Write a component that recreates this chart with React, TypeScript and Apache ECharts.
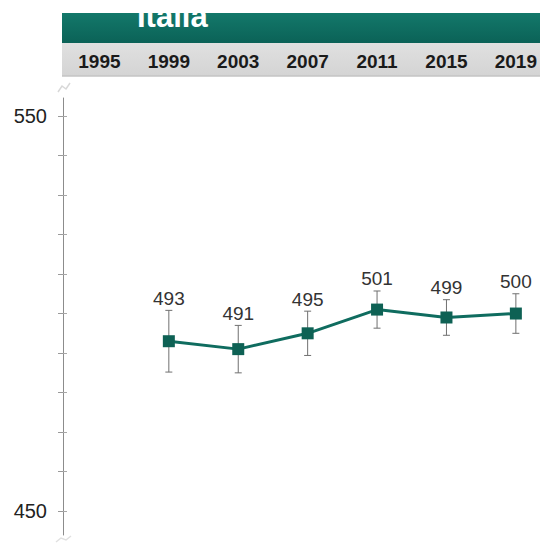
import React, { useEffect, useRef } from "react";
import * as echarts from "echarts";

const headerYears = [1995, 1999, 2003, 2007, 2011, 2015, 2019];
const dataYears = [1999, 2003, 2007, 2011, 2015, 2019];
const scores = [493, 491, 495, 501, 499, 500];
const ciHalf = [7.8, 6.0, 5.6, 4.7, 4.5, 5.0];
const yTickValues = [450, 460, 470, 480, 490, 500, 510, 520, 530, 540, 550];
const yLabelValues = [450, 550];
const countryName = "Italia";

const FONT = '"Liberation Sans", Arial, sans-serif';
const GREEN = "#0f6c5f";

export default function App() {
  const ref = useRef<HTMLDivElement>(null);
  useEffect(() => {
    if (!ref.current) return;
    const chart = echarts.init(ref.current, null, { renderer: "svg" });
    const lineData = dataYears.map((y, i) => [y, scores[i]]);
    const errData = dataYears.map((y, i) => [y, scores[i] - ciHalf[i], scores[i] + ciHalf[i], scores[i]]);
    chart.setOption({
      animation: false,
      backgroundColor: "#ffffff",
      textStyle: { fontFamily: FONT },
      grid: { left: 63, right: 0, top: 98, bottom: 10 },
      xAxis: [
        {
          type: "value",
          position: "top",
          min: 1992.9,
          max: 2020.08,
          offset: 36.5,
          axisLine: { show: false },
          axisTick: { show: false },
          splitLine: { show: false },
          axisLabel: {
            customValues: headerYears,
            margin: 0,
            verticalAlign: "middle",
            fontSize: 19,
            fontWeight: "bold",
            color: "#1a1a1a",
            fontFamily: FONT,
            formatter: (v: number) => String(Math.round(v)),
          },
        },
      ],
      yAxis: [
        {
          type: "value",
          min: 444,
          max: 554.5,
          axisLine: { show: true, lineStyle: { color: "#8c8c8c", width: 1 } },
          axisTick: {
            show: true,
            customValues: yTickValues,
            length: 5,
            lineStyle: { color: "#9a9a9a" },
          },
          splitLine: { show: false },
          axisLabel: {
            customValues: yLabelValues,
            margin: 16,
            fontSize: 20,
            color: "#222",
            fontFamily: FONT,
          },
        },
        {
          type: "value",
          position: "left",
          min: 444,
          max: 554.5,
          axisLine: { show: false },
          axisTick: {
            show: true,
            inside: true,
            customValues: yTickValues,
            length: 4,
            lineStyle: { color: "#a8a8a8" },
          },
          splitLine: { show: false },
          axisLabel: { show: false },
        },
      ],
      graphic: [
        {
          type: "rect",
          z: -10,
          shape: { x: 62, y: 13, width: 478, height: 30 },
          style: {
            fill: new echarts.graphic.LinearGradient(0, 0, 0, 1, [
              { offset: 0, color: "#13786a" },
              { offset: 1, color: "#0b6257" },
            ]),
          },
        },
        {
          type: "rect",
          z: -10,
          shape: { x: 62, y: 43, width: 478, height: 33 },
          style: {
            fill: new echarts.graphic.LinearGradient(0, 0, 0, 1, [
              { offset: 0, color: "#e0e0e0" },
              { offset: 1, color: "#d4d4d4" },
            ]),
          },
        },
        {
          type: "line",
          z: -9,
          shape: { x1: 62, y1: 76, x2: 540, y2: 76 },
          style: { stroke: "#c4c4c4", lineWidth: 1.5 },
        },
        {
          type: "text",
          z: 5,
          x: 137,
          y: 1,
          style: {
            text: countryName,
            fill: "#ffffff",
            font: `bold 31px ${FONT}`,
            verticalAlign: "top",
            align: "left",
          },
        },
        {
          type: "rect",
          z: 10,
          shape: { x: 0, y: 0, width: 540, height: 13 },
          style: { fill: "#ffffff" },
        },
        {
          type: "polyline",
          z: 1,
          shape: { points: [[58, 92], [62, 86], [66, 89], [70, 83]] },
          style: { stroke: "#d8d8d8", lineWidth: 1.5, fill: null },
        },
        {
          type: "polyline",
          z: 1,
          shape: { points: [[56, 542], [61, 538], [66, 540], [71, 536]] },
          style: { stroke: "#e0e0e0", lineWidth: 1.5, fill: null },
        },
      ],
      series: [
        {
          type: "custom",
          z: 2,
          data: errData,
          encode: { x: 0, y: [1, 2] },
          renderItem: (params: any, api: any) => {
            const x = api.value(0);
            const lo = api.value(1);
            const hi = api.value(2);
            const pTop = api.coord([x, hi]);
            const pBot = api.coord([x, lo]);
            const cap = 3.5;
            const stroke = { stroke: "#707070", lineWidth: 1 };
            return {
              type: "group",
              children: [
                { type: "line", shape: { x1: pTop[0], y1: pTop[1], x2: pBot[0], y2: pBot[1] }, style: stroke },
                { type: "line", shape: { x1: pTop[0] - cap, y1: pTop[1], x2: pTop[0] + cap, y2: pTop[1] }, style: stroke },
                { type: "line", shape: { x1: pBot[0] - cap, y1: pBot[1], x2: pBot[0] + cap, y2: pBot[1] }, style: stroke },
                {
                  type: "text",
                  x: pTop[0],
                  y: pTop[1] - 12,
                  style: {
                    text: String(api.value(3)),
                    fill: "#333333",
                    font: `19px ${FONT}`,
                    align: "center",
                    verticalAlign: "middle",
                  },
                },
              ],
            };
          },
        },
        {
          type: "line",
          z: 3,
          data: lineData,
          symbol: "rect",
          symbolSize: 12,
          lineStyle: { color: GREEN, width: 3 },
          itemStyle: { color: "#0e6154", borderWidth: 0 },
          label: { show: false },
        },
      ],
    });
    return () => chart.dispose();
  }, []);
  return (
    <div
      ref={ref}
      style={{ position: "fixed", left: 0, top: 0, width: 540, height: 545 }}
    />
  );
}
